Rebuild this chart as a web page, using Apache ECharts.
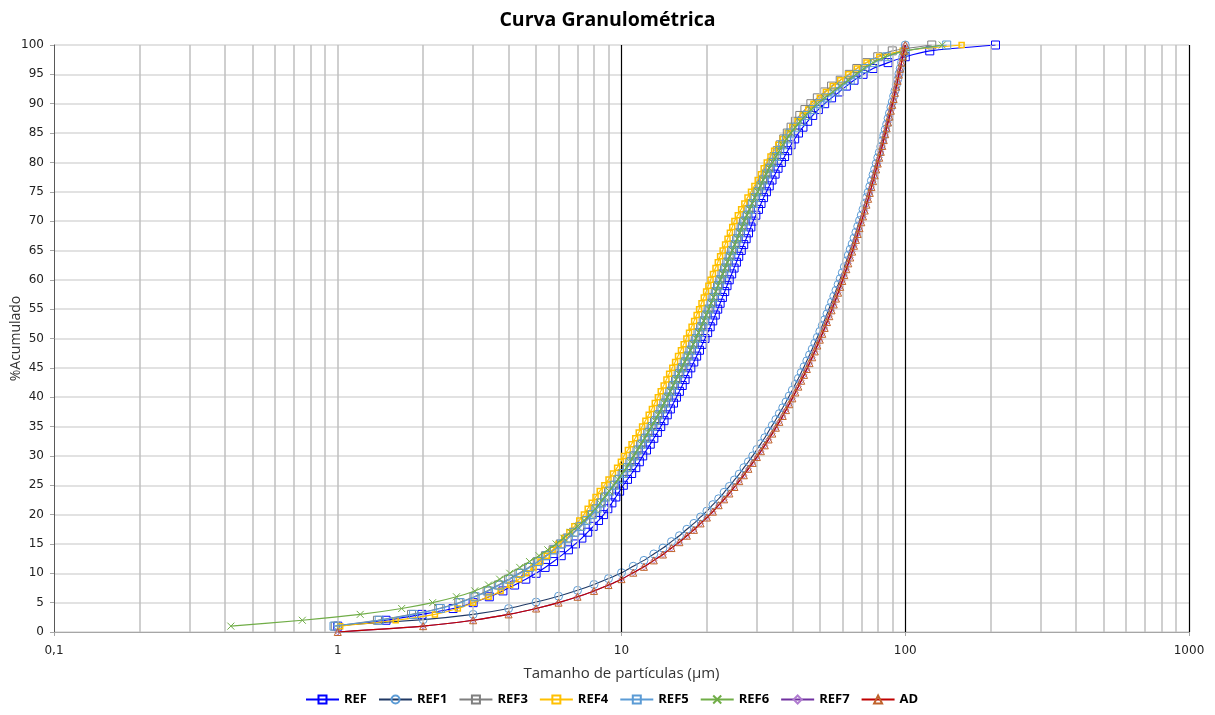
<!DOCTYPE html>
<html>
<head>
<meta charset="utf-8">
<script src="https://cdn.jsdelivr.net/npm/echarts@6/dist/echarts.min.js"></script>
<style>html,body{margin:0;padding:0;background:#fff}#c{width:1215px;height:715px}</style>
</head>
<body>
<div id="c"></div>
<script>
// cumulative percent levels for fine series
const percent = [1,2,3,4,5,6,7,8,9,10,11,12,13,14,15,16,17,18,19,20,21,22,23,24,25,26,27,28,29,30,31,32,33,34,35,36,37,38,39,40,41,42,43,44,45,46,47,48,49,50,51,52,53,54,55,56,57,58,59,60,61,62,63,64,65,66,67,68,69,70,71,72,73,74,75,76,77,78,79,80,81,82,83,84,85,86,87,88,89,90,91,92,93,94,95,96,97,98,99,100];
// particle sizes (µm) for REF1 / REF7 / AD
const sizeInt = [1,2,3,4,5,6,7,8,9,10,11,12,13,14,15,16,17,18,19,20,21,22,23,24,25,26,27,28,29,30,31,32,33,34,35,36,37,38,39,40,41,42,43,44,45,46,47,48,49,50,51,52,53,54,55,56,57,58,59,60,61,62,63,64,65,66,67,68,69,70,71,72,73,74,75,76,77,78,79,80,81,82,83,84,85,86,87,88,89,90,91,92,93,94,95,96,97,98,99,100];

// sizes (µm) at each percent level
const REF = [1.0,1.48,1.98,2.55,3.0,3.42,3.82,4.2,4.6,5.0,5.38,5.76,6.13,6.5,6.88,7.25,7.6,7.95,8.3,8.65,8.95,9.25,9.55,9.85,10.15,10.5,10.86,11.23,11.56,11.88,12.25,12.63,13.0,13.38,13.75,14.12,14.5,14.87,15.25,15.62,16.0,16.37,16.75,17.12,17.55,17.98,18.4,18.83,19.26,19.69,20.12,20.54,20.97,21.4,21.83,22.26,22.68,23.11,23.54,23.97,24.45,24.93,25.41,25.89,26.43,26.96,27.5,28.03,28.57,29.1,29.75,30.39,31.03,31.67,32.42,33.17,33.92,34.78,35.63,36.6,37.56,38.52,39.6,40.77,42.05,43.6,45.3,47.2,49.4,52,55,58.5,62,66,71,77,87,100,122,208];
const REF3 = [0.98,1.38,1.82,2.27,2.67,3.02,3.36,3.68,4.0,4.35,4.7,5.05,5.4,5.74,6.09,6.43,6.78,7.13,7.47,7.82,8.12,8.41,8.71,9.0,9.35,9.7,10.05,10.4,10.7,11.0,11.34,11.68,12.03,12.37,12.72,13.07,13.41,13.76,14.1,14.45,14.8,15.15,15.5,15.84,16.24,16.63,17.03,17.42,17.82,18.2,18.6,19.0,19.4,19.8,20.2,20.6,21.0,21.4,21.8,22.2,22.6,23.05,23.5,23.95,24.45,24.95,25.45,25.9,26.4,26.9,27.5,28.1,28.7,29.3,30.0,30.7,31.4,32.1,32.9,33.7,34.5,35.4,36.3,37.3,38.4,39.6,41,42.5,44.3,46.5,49,52,55,59,63.5,67.5,73,80,90,124];
const REF4 = [1.02,1.6,2.2,2.65,3.0,3.4,3.75,4.05,4.35,4.62,4.9,5.18,5.45,5.72,6.0,6.28,6.55,6.82,7.1,7.37,7.6,7.85,8.1,8.38,8.7,9.0,9.33,9.65,9.95,10.2,10.53,10.85,11.18,11.5,11.82,12.14,12.47,12.8,13.1,13.43,13.75,14.08,14.4,14.72,15.1,15.45,15.82,16.2,16.56,16.93,17.3,17.66,18.03,18.4,18.77,19.14,19.5,19.87,20.24,20.6,21.0,21.44,21.85,22.26,22.72,23.18,23.64,24.1,24.56,25.0,25.7,26.4,27.1,27.8,28.6,29.4,30.2,31.0,31.7,32.5,33.5,34.5,35.7,37,38.5,40,41.7,43.5,45.5,47.5,50,52.5,55.5,59,63,67.5,73,81,98,158];
const REF5 = [0.97,1.4,1.85,2.3,2.7,3.05,3.4,3.72,4.05,4.4,4.75,5.1,5.45,5.8,6.15,6.5,6.85,7.2,7.55,7.9,8.2,8.5,8.8,9.1,9.45,9.8,10.15,10.5,10.8,11.1,11.45,11.8,12.15,12.5,12.85,13.2,13.55,13.9,14.25,14.6,14.95,15.3,15.65,16.0,16.4,16.8,17.2,17.6,18.0,18.4,18.8,19.2,19.6,20.0,20.4,20.8,21.2,21.6,22.0,22.4,22.85,23.3,23.75,24.2,24.7,25.2,25.7,26.2,26.7,27.2,27.8,28.4,29.0,29.6,30.3,31.0,31.7,32.5,33.3,34.2,35.1,36.0,37.0,38.1,39.3,41.2,43,45,47.3,50,53,56.5,60,64,68,72.5,78,86,100,140];
const REF6 = [0.42,0.75,1.2,1.68,2.16,2.62,3.04,3.4,3.72,4.04,4.38,4.74,5.12,5.5,5.88,6.25,6.62,7.0,7.38,7.75,8.08,8.4,8.72,9.04,9.38,9.72,10.06,10.4,10.72,11.04,11.38,11.72,12.06,12.4,12.75,13.1,13.45,13.8,14.15,14.5,14.85,15.2,15.55,15.9,16.3,16.7,17.1,17.5,17.9,18.3,18.7,19.1,19.5,19.9,20.3,20.7,21.1,21.5,21.9,22.3,22.75,23.2,23.65,24.1,24.6,25.1,25.6,26.1,26.6,27.1,27.7,28.3,28.9,29.5,30.2,30.9,31.6,32.4,33.2,34.1,35.0,36.0,37.0,38.2,39.5,41.0,42.6,44.5,46.6,49,52,55.5,59,63,67,71.5,77,85,100,135];

// cumulative percent at each integer size
const REF1 = [1.1,2.1,3.0,4.0,5.1,6.1,7.1,8.1,9.1,10.1,11.2,12.2,13.3,14.3,15.4,16.4,17.5,18.5,19.6,20.6,21.7,22.7,23.8,24.8,25.9,26.9,28.0,29.0,30.0,31.1,32.1,33.1,34.2,35.2,36.2,37.2,38.2,39.2,40.2,41.2,42.2,43.2,44.2,45.2,46.2,47.2,48.2,49.2,50.2,51.2,52.2,53.2,54.2,55.2,56.2,57.2,58.2,59.2,60.2,61.2,62.2,63.2,64.2,65.2,66.1,67.1,68.1,69.1,70.1,71.0,72.0,73.0,74.0,74.9,75.9,76.9,77.9,78.8,79.8,80.8,81.7,82.7,83.7,84.6,85.6,86.5,87.5,88.4,89.4,90.3,91.3,92.2,93.2,94.1,95.1,96.0,97.0,98.0,99.0,100];
const REF7 = [0,1,2,3,4,5,6,7,8,9,10.1,11.1,12.2,13.2,14.3,15.3,16.4,17.4,18.5,19.5,20.5,21.6,22.6,23.6,24.7,25.7,26.7,27.8,28.8,29.8,30.8,31.8,32.8,33.8,34.8,35.8,36.8,37.8,38.8,39.8,40.8,41.8,42.8,43.8,44.8,45.8,46.8,47.8,48.8,49.8,50.8,51.8,52.8,53.8,54.8,55.8,56.8,57.8,58.8,59.8,60.8,61.8,62.8,63.8,64.8,65.8,66.8,67.8,68.8,69.8,70.8,71.8,72.8,73.8,74.8,75.8,76.8,77.8,78.8,79.8,80.8,81.8,82.8,83.8,84.8,85.8,86.8,87.8,88.8,89.8,90.8,91.85,92.9,93.9,94.95,95.95,97.0,98.0,99.0,100];
const AD = [0,1,2,3,4,5,6,7,8,9,10.1,11.1,12.2,13.2,14.3,15.3,16.4,17.4,18.5,19.5,20.5,21.6,22.6,23.6,24.7,25.7,26.7,27.8,28.8,29.8,30.8,31.8,32.8,33.8,34.8,35.8,36.8,37.8,38.8,39.8,40.8,41.8,42.8,43.8,44.8,45.8,46.8,47.8,48.8,49.8,50.8,51.8,52.8,53.8,54.8,55.8,56.8,57.8,58.8,59.8,60.8,61.8,62.8,63.8,64.8,65.8,66.8,67.8,68.8,69.8,70.8,71.8,72.8,73.8,74.8,75.8,76.8,77.8,78.8,79.8,80.8,81.8,82.8,83.8,84.8,85.8,86.8,87.8,88.8,89.8,90.8,91.85,92.9,93.9,94.95,95.95,97.0,98.0,99.0,100];

const xTickLabels = {0.1:'0,1', 1:'1', 10:'10', 100:'100', 1000:'1000'};
const yTickStep = 5;

const chart = echarts.init(document.getElementById('c'), null, {renderer:'canvas'});

const minorX = [];
[0.1,1,10,100].forEach(d => { for (let k=2;k<=9;k++) minorX.push(+(d*k).toPrecision(3)); });

function bySize(sizes){ return sizes.map((d,i)=>[d, percent[i]]); }
function byPct(pcts){ return sizeInt.map((d,i)=>[d, pcts[i]]); }

function mk(name, data, lineColor, symbol, symColor, size, bw){
  return {
    name, type:'line', data, smooth:0.2, showSymbol:true, symbol, symbolSize:size,
    lineStyle:{color:lineColor, width:1.1},
    itemStyle:{color:'rgba(255,255,255,0)', borderColor:symColor, borderWidth:bw||1},
    emphasis:{disabled:true}, animation:false
  };
}

const series = [
  mk('REF', bySize(REF), '#0000FF', 'rect', '#0000FF', 8),
  mk('REF1', byPct(REF1), '#1F3864', 'circle', '#5B9BD5', 8),
  mk('REF3', bySize(REF3), '#7F7F7F', 'rect', '#7F7F7F', 8),
  mk('REF4', bySize(REF4), '#FFC000', 'rect', '#FFC000', 5, 1.5),
  mk('REF5', bySize(REF5), '#5B9BD5', 'rect', '#5B9BD5', 8),
  mk('REF6', bySize(REF6), '#70AD47', 'path://M0,0L10,10M10,0L0,10', '#70AD47', 7),
  mk('REF7', byPct(REF7), '#7030A0', 'diamond', '#B07CD0', 6),
  mk('AD', byPct(AD), '#C00000', 'triangle', '#C0622B', 7)
];
// grid lines
series.push({
  type:'line', data:[], silent:true, animation:false,
  markLine:{silent:true, symbol:'none', label:{show:false},
    lineStyle:{color:'#BFBFBF', type:'solid', width:1.5},
    data: minorX.map(v=>({xAxis:v})).concat([{xAxis:1}])
  }
});
series.push({
  type:'line', data:[], silent:true, animation:false,
  markLine:{silent:true, symbol:'none', label:{show:false},
    lineStyle:{color:'#000000', type:'solid', width:1.2},
    data:[{xAxis:10},{xAxis:100},{xAxis:1000}]
  }
});
series.forEach((s,i)=>{ if(!s.name) s.z = 1; else s.z = 2+i; });

chart.setOption({
  backgroundColor:'#fff',
  animation:false,
  title:{text:'Curva Granulométrica', left:'center', top:5,
    textStyle:{fontFamily:'Open Sans', fontWeight:'bold', fontSize:19.5, color:'#000'}},
  grid:{left:54, right:26, top:45, bottom:83, containLabel:false, outerBoundsMode:'none'},
  legend:{bottom:4, left:300, itemWidth:33, itemHeight:10, itemGap:11,
    data:['REF','REF1','REF3','REF4','REF5','REF6','REF7','AD'],
    formatter:'{a|{name}}',
    textStyle:{fontFamily:'Open Sans', fontWeight:'bold', fontSize:13, color:'#000',
      rich:{a:{width:38, fontFamily:'Open Sans', fontWeight:'bold', fontSize:13, color:'#000'}}}},
  xAxis:{type:'log', logBase:10, min:0.1, max:1000,
    name:'Tamanho de partículas (µm)', nameLocation:'middle', nameGap:34, nameMoveOverlap:false,
    nameTextStyle:{fontFamily:'Open Sans', fontSize:15, color:'#333'},
    axisLine:{show:true, lineStyle:{color:'#A6A6A6'}},
    axisTick:{show:true, length:4, lineStyle:{color:'#A6A6A6'}},
    splitLine:{show:false},
    axisLabel:{fontFamily:'DejaVu Sans', fontSize:12, color:'#222', margin:13,
      formatter:v=> xTickLabels[v] !== undefined ? xTickLabels[v] : String(v).replace('.',',')}
  },
  yAxis:{type:'value', min:0, max:100, interval:yTickStep,
    name:'%Acumulado', nameLocation:'middle', nameGap:31, nameRotate:90, nameMoveOverlap:false,
    nameTextStyle:{fontFamily:'Open Sans', fontSize:14, color:'#333'},
    axisLine:{show:true, lineStyle:{color:'#595959'}},
    axisTick:{show:true, length:4, lineStyle:{color:'#A6A6A6'}},
    splitLine:{show:true, lineStyle:{color:'#D9D9D9', width:1.5}},
    axisLabel:{fontFamily:'DejaVu Sans', fontSize:12, color:'#222', margin:10}
  },
  series
});
</script>
</body>
</html>
